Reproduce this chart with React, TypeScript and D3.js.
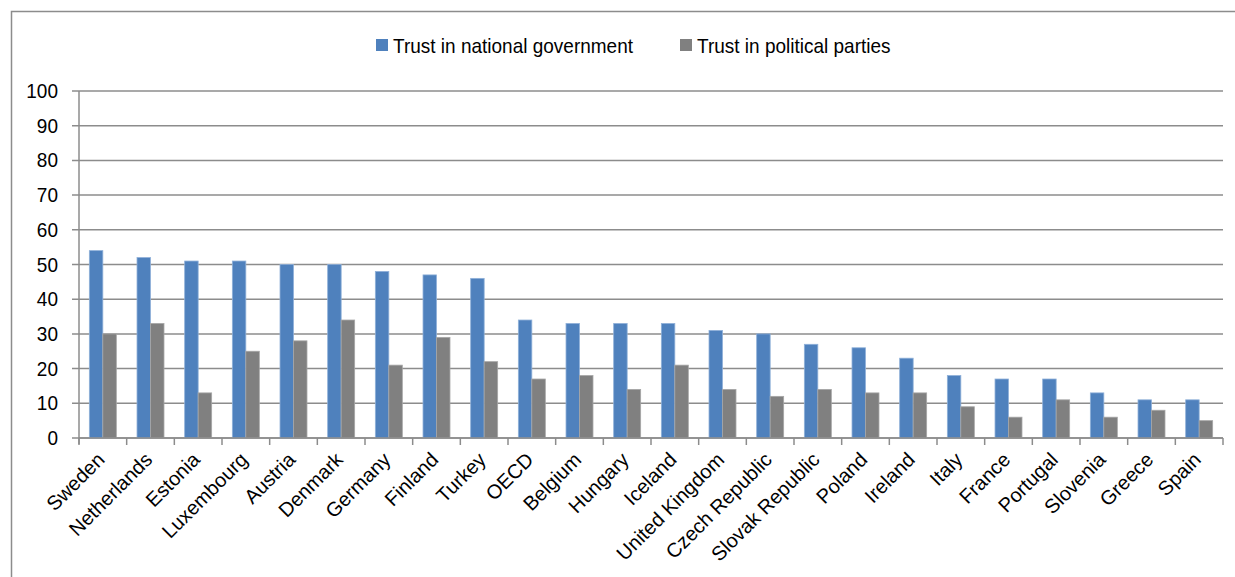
import React from "react";
import * as d3 from "d3";

const categories = [
  "Sweden", "Netherlands", "Estonia", "Luxembourg", "Austria", "Denmark", "Germany", "Finland",
  "Turkey", "OECD", "Belgium", "Hungary", "Iceland", "United Kingdom", "Czech Republic",
  "Slovak Republic", "Poland", "Ireland", "Italy", "France", "Portugal", "Slovenia", "Greece", "Spain",
];
const trustGovernment = [54, 52, 51, 51, 50, 50, 48, 47, 46, 34, 33, 33, 33, 31, 30, 27, 26, 23, 18, 17, 17, 13, 11, 11];
const trustParties = [30, 33, 13, 25, 28, 34, 21, 29, 22, 17, 18, 14, 21, 14, 12, 14, 13, 13, 9, 6, 11, 6, 8, 5];
const yTicks = [0, 10, 20, 30, 40, 50, 60, 70, 80, 90, 100];
const seriesNames = ["Trust in national government", "Trust in political parties"];
const seriesColors = ["#4F81BD", "#808080"];
const seriesStrokes = ["#8fb0d9", "#a6a6a6"];

const W = 1235;
const H = 577;
const FONT = "'Liberation Sans', Arial, sans-serif";
const SX = 0.95;

export default function App() {
  const left = 79;
  const right = 1223;
  const top = 91;
  const bottom = 438;
  const x = d3.scaleBand<string>().domain(categories).range([left, right]).padding(0);
  const y = d3.scaleLinear().domain([0, 100]).range([bottom, top]);
  const bw = x.bandwidth() * 0.283;
  const gridColor = "#8c8c8c";
  const series = [trustGovernment, trustParties];
  const legendX = [376, 680];

  return (
    <svg width={W} height={H} style={{ position: "absolute", left: 0, top: 0, fontFamily: FONT }}>
      <rect x={0} y={0} width={W} height={H} fill="#fff" />
      <path d={`M11.5,${H} V11.5 H${W}`} fill="none" stroke="#8c8c8c" strokeWidth={1.5} />
      {yTicks.map((t) => (
        <line key={t} x1={left - 7} x2={right} y1={y(t)} y2={y(t)} stroke={gridColor} strokeWidth={1.5} />
      ))}
      <line x1={left} x2={left} y1={top} y2={bottom + 6} stroke={gridColor} strokeWidth={1.5} />
      {yTicks.map((t) => (
        <text
          key={t}
          transform={`translate(58,${y(t)}) scale(${SX},1)`}
          dy="0.35em"
          textAnchor="end"
          fontSize={20}
          fill="#000"
        >
          {t}
        </text>
      ))}
      {categories.map((c, i) => {
        const cx = (x(c) as number) + x.bandwidth() / 2;
        return (
          <g key={c}>
            {series.map((s, k) => (
              <rect
                key={k}
                x={cx - bw + k * bw}
                y={y(s[i])}
                width={bw}
                height={y(0) - y(s[i])}
                fill={seriesColors[k]}
                stroke={seriesStrokes[k]}
                strokeWidth={0.8}
              />
            ))}
          </g>
        );
      })}
      <line x1={left} x2={right} y1={bottom} y2={bottom} stroke={gridColor} strokeWidth={1.5} />
      {categories.map((c) => (
        <line
          key={"t" + c}
          x1={x(c) as number}
          x2={x(c) as number}
          y1={bottom}
          y2={bottom + 7}
          stroke={gridColor}
          strokeWidth={1.5}
        />
      ))}
      <line x1={right} x2={right} y1={bottom} y2={bottom + 7} stroke={gridColor} strokeWidth={1.5} />
      {categories.map((c) => {
        const cx = (x(c) as number) + x.bandwidth() / 2 + 3;
        const cy = bottom + 23;
        return (
          <text
            key={"l" + c}
            textAnchor="end"
            fontSize={20}
            fill="#000"
            transform={`translate(${cx},${cy}) rotate(-45)`}
          >
            {c}
          </text>
        );
      })}
      {seriesNames.map((n, k) => {
        const lx = legendX[k];
        return (
          <g key={n}>
            <rect x={lx} y={39} width={12} height={12} fill={seriesColors[k]} />
            <text transform={`translate(${lx + 17},53) scale(${SX},1)`} fontSize={20} fill="#000">
              {n}
            </text>
          </g>
        );
      })}
    </svg>
  );
}
